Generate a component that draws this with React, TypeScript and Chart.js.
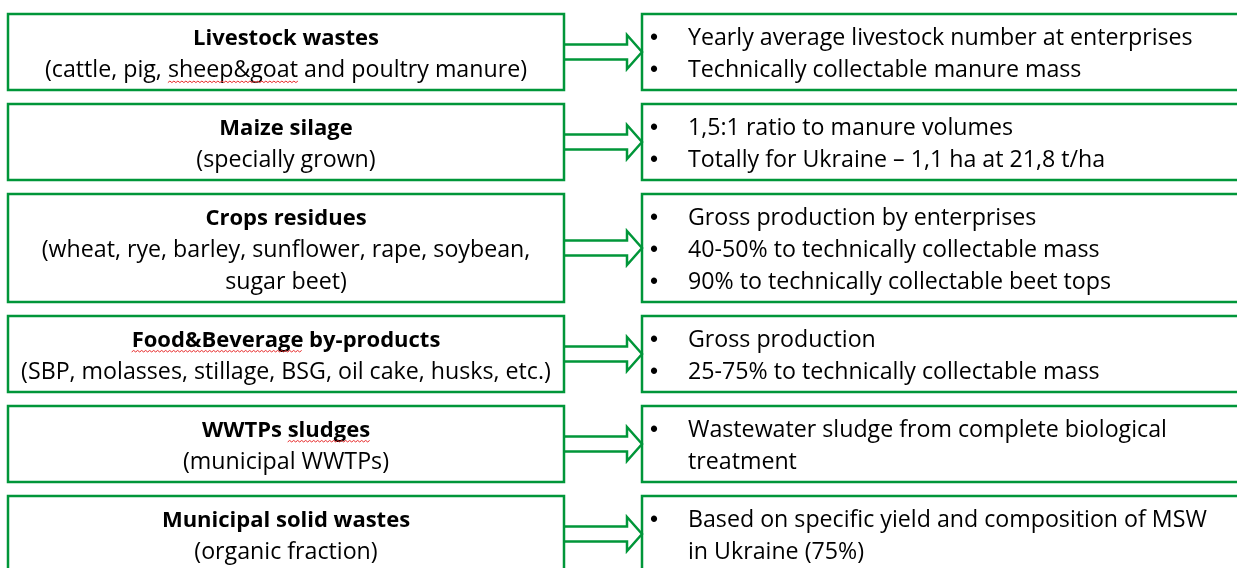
import React, { useEffect, useRef } from "react";
import { Chart, registerables } from "chart.js";

Chart.register(...registerables);

// ---------- data ----------
const sourceTitles: string[] = [
  "Livestock wastes",
  "Maize silage",
  "Crops residues",
  "Food&Beverage by-products",
  "WWTPs sludges",
  "Municipal solid wastes",
];

const sourceDetails: string[][] = [
  ["(cattle, pig, sheep&goat and poultry manure)"],
  ["(specially grown)"],
  ["(wheat, rye, barley, sunflower, rape, soybean,", "sugar beet)"],
  ["(SBP, molasses, stillage, BSG, oil cake, husks, etc.)"],
  ["(municipal WWTPs)"],
  ["(organic fraction)"],
];

// each bullet may wrap onto several lines
const methodBullets: string[][][] = [
  [["Yearly average livestock number at enterprises"], ["Technically collectable manure mass"]],
  [["1,5:1 ratio to manure volumes"], ["Totally for Ukraine \u2013 1,1 ha at 21,8 t/ha"]],
  [
    ["Gross production by enterprises"],
    ["40-50% to technically collectable mass"],
    ["90% to technically collectable beet tops"],
  ],
  [["Gross production"], ["25-75% to technically collectable mass"]],
  [["Wastewater sludge from complete biological", "treatment"]],
  [["Based on specific yield and composition of MSW", "in Ukraine (75%)"]],
];

// words flagged by the spell checker in the original slide
const flaggedWords: string[] = ["sheep&goat", "Food&Beverage", "sludges"];

// ---------- layout / style ----------
const W = 1237;
const H = 568;
const GREEN = "rgb(0,150,57)";
const FONT = "'Open Sans', Lato, sans-serif";
const TITLE_SIZE = 22;
const FONT_SIZE = 23.2;
const BULLET_FONT = "23px 'Liberation Sans', Arial, sans-serif";
const LINE = 32;
const PAD = 12;
const GAP = 14;
const TOP0 = 14;
const TEXT_SHIFT = 2.5;
const LEFT_X0 = 8;
const LEFT_X1 = 564;
const RIGHT_X0 = 642;
const RIGHT_X1 = 1262;
const ARROW_SHAFT_END = 627;
const ARROW_HALF_SHAFT = 7.5;
const ARROW_HALF_HEAD = 17;
const BULLET_X = 650;
const BULLET_TEXT_X = 688;

type Row = { top: number; bottom: number; lines: number };

function rowLayout(): Row[] {
  const rows: Row[] = [];
  let y = TOP0;
  for (let i = 0; i < sourceTitles.length; i++) {
    const leftLines = 1 + sourceDetails[i].length;
    const rightLines = methodBullets[i].reduce((s, b) => s + b.length, 0);
    const lines = Math.max(leftLines, rightLines);
    const h = lines * LINE + PAD;
    rows.push({ top: y, bottom: y + h, lines });
    y += h + GAP;
  }
  return rows;
}

function boxPoints(x0: number, x1: number, y0: number, y1: number) {
  const xm = (x0 + x1) / 2;
  return [
    { x: xm, y: y0 },
    { x: x1, y: y0 },
    { x: x1, y: y1 },
    { x: x0, y: y1 },
    { x: x0, y: y0 },
    { x: xm, y: y0 },
  ];
}

function arrowPoints(yc: number) {
  return [
    { x: LEFT_X1, y: yc - ARROW_HALF_SHAFT },
    { x: ARROW_SHAFT_END, y: yc - ARROW_HALF_SHAFT },
    { x: ARROW_SHAFT_END, y: yc - ARROW_HALF_HEAD },
    { x: RIGHT_X0, y: yc },
    { x: ARROW_SHAFT_END, y: yc + ARROW_HALF_HEAD },
    { x: ARROW_SHAFT_END, y: yc + ARROW_HALF_SHAFT },
    { x: LEFT_X1, y: yc + ARROW_HALF_SHAFT },
  ];
}

function drawWave(ctx: CanvasRenderingContext2D, x0: number, x1: number, y: number) {
  ctx.save();
  ctx.strokeStyle = "rgb(230,40,40)";
  ctx.lineWidth = 1;
  ctx.beginPath();
  let up = true;
  ctx.moveTo(x0, y);
  for (let x = x0 + 2; x <= x1; x += 2) {
    ctx.lineTo(x, up ? y - 1.5 : y);
    up = !up;
  }
  ctx.stroke();
  ctx.restore();
}

function drawCenteredLine(
  ctx: CanvasRenderingContext2D,
  text: string,
  cx: number,
  cy: number,
  font: string,
  size: number
) {
  ctx.font = font;
  ctx.textAlign = "left";
  ctx.textBaseline = "middle";
  const w = ctx.measureText(text).width;
  const x = cx - w / 2;
  ctx.fillText(text, x, cy);
  for (const word of flaggedWords) {
    const idx = text.indexOf(word);
    if (idx >= 0) {
      const pre = ctx.measureText(text.slice(0, idx)).width;
      const ww = ctx.measureText(word).width;
      drawWave(ctx, x + pre, x + pre + ww, cy + size * 0.52);
    }
  }
}

const textPlugin = {
  id: "diagramText",
  afterDatasetsDraw(chart: any) {
    const ctx: CanvasRenderingContext2D = chart.ctx;
    const xs = chart.scales.x;
    const ys = chart.scales.y;
    const rows = rowLayout();
    ctx.save();
    ctx.fillStyle = "#000";
    rows.forEach((r, i) => {
      const lineY = (k: number) =>
        ys.getPixelForValue(r.top + PAD / 2 + LINE / 2 + TEXT_SHIFT + k * LINE);
      const cx = xs.getPixelForValue((LEFT_X0 + LEFT_X1) / 2);
      drawCenteredLine(ctx, sourceTitles[i], cx, lineY(0), `bold ${TITLE_SIZE}px ${FONT}`, TITLE_SIZE);
      sourceDetails[i].forEach((t, k) => {
        drawCenteredLine(ctx, t, cx, lineY(k + 1), `${FONT_SIZE}px ${FONT}`, FONT_SIZE);
      });
      let k = 0;
      methodBullets[i].forEach((bullet) => {
        ctx.font = BULLET_FONT;
        ctx.textAlign = "left";
        ctx.textBaseline = "middle";
        ctx.fillText("\u2022", xs.getPixelForValue(BULLET_X), lineY(k));
        ctx.font = `${FONT_SIZE}px ${FONT}`;
        bullet.forEach((line) => {
          ctx.fillText(line, xs.getPixelForValue(BULLET_TEXT_X), lineY(k));
          k++;
        });
      });
    });
    ctx.restore();
  },
};

export default function App() {
  const ref = useRef<HTMLCanvasElement | null>(null);

  useEffect(() => {
    if (!ref.current) return;
    const rows = rowLayout();
    const base = {
      showLine: true,
      borderColor: GREEN,
      backgroundColor: GREEN,
      borderWidth: 2.5,
      pointRadius: 0,
      pointHoverRadius: 0,
      fill: false,
      tension: 0,
      borderJoinStyle: "miter" as const,
      borderCapStyle: "butt" as const,
    };
    const datasets: any[] = [];
    rows.forEach((r) => {
      datasets.push({ ...base, data: boxPoints(LEFT_X0, LEFT_X1, r.top, r.bottom) });
      datasets.push({ ...base, data: boxPoints(RIGHT_X0, RIGHT_X1, r.top, r.bottom) });
      datasets.push({ ...base, data: arrowPoints((r.top + r.bottom) / 2) });
    });

    const chart = new Chart(ref.current, {
      type: "scatter",
      data: { datasets },
      options: {
        animation: false,
        responsive: true,
        maintainAspectRatio: false,
        layout: { padding: 0 },
        plugins: { legend: { display: false }, tooltip: { enabled: false } },
        events: [],
        scales: {
          x: { type: "linear", min: 0, max: W, display: false },
          y: { type: "linear", min: 0, max: H, reverse: true, display: false },
        },
      },
      plugins: [textPlugin],
    });
    return () => chart.destroy();
  }, []);

  return (
    <div style={{ position: "fixed", left: 0, top: 0, width: W, height: H, background: "#fff" }}>
      <canvas ref={ref} />
    </div>
  );
}
